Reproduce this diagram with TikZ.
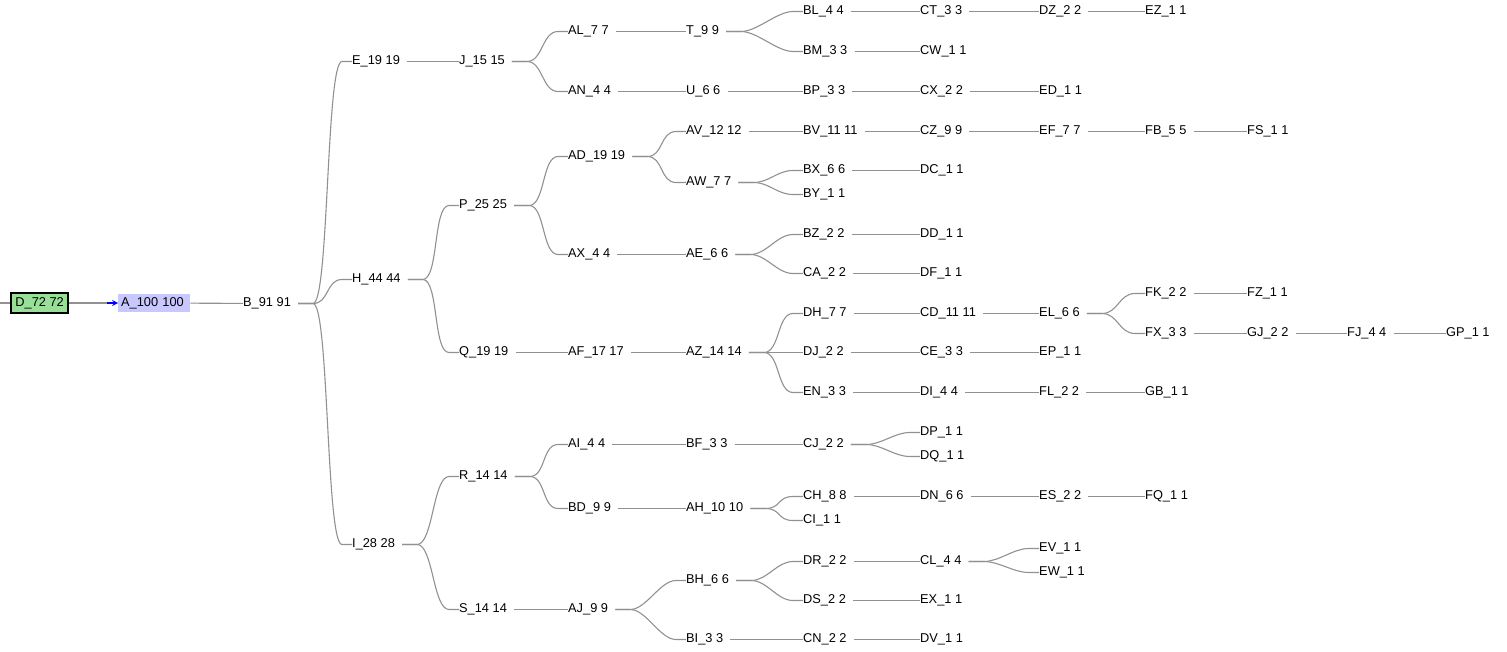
\documentclass[tikz,border=0pt]{standalone}
\usepackage{fontspec}
\setmainfont{Liberation Sans}
\usepackage{xcolor}
\usepackage{tikz}

\definecolor{linegray}{RGB}{145,145,145}
\definecolor{rootgreen}{RGB}{152,224,152}
\definecolor{pickblue}{RGB}{200,200,255}

\begin{document}
\begin{tikzpicture}[
  x=1pt, y=-1pt,
  item/.style={anchor=west,inner sep=0pt,yshift=-1.5pt},
  link/.style={draw=linegray,line width=1.1pt,
    to path={(\tikztostart.east) ++(7,0) -- ++(15,0)
      .. controls +(16,0) and +(-16,0) .. ([xshift=-10pt]\tikztotarget.west)
      -- (\tikztotarget.west)}},
  font=\fontsize{12.8}{15}\selectfont
]
\useasboundingbox (0,0) rectangle (1507,652);

% Draw the root and the picked node
\coordinate (src) at (0,303);
\node[draw,line width=1.8pt,fill=rootgreen,inner xsep=4.5pt,inner ysep=0pt,
  minimum height=20pt,anchor=west] (D) at (10,303) {D\_72 72};
\node[fill=pickblue,anchor=west,inner xsep=3pt,inner ysep=0pt,
  text width=66pt,minimum height=18pt] (A) at (118,303) {A\_100 100};

% Draw tree nodes: name/count/x/y
\foreach \n/\v/\x/\y in {
  B/91/243/302,
  E/19/352/60, H/44/352/278, I/28/352/543,
  J/15/459/60, P/25/459/204, Q/19/459/351, R/14/459/475, S/14/459/608,
  AL/7/568/30, AN/4/568/90, AD/19/568/155, AX/4/568/253, AF/17/568/351,
  AI/4/568/443, BD/9/568/507, AJ/9/568/608,
  T/9/686/30, U/6/686/90, AV/12/686/130, AW/7/686/181, AE/6/686/253,
  AZ/14/686/351, BF/3/686/443, AH/10/686/507, BH/6/686/579, BI/3/686/638,
  BL/4/803/10, BM/3/803/50, BP/3/803/90, BV/11/803/130, BX/6/803/169,
  BY/1/803/193, BZ/2/803/233, CA/2/803/272, DH/7/803/312, DJ/2/803/351,
  EN/3/803/391, CJ/2/803/443, CH/8/803/495, CI/1/803/519, DR/2/803/560,
  DS/2/803/599, CN/2/803/638,
  CT/3/920/10, CW/1/920/50, CX/2/920/90, CZ/9/920/130, DC/1/920/169,
  DD/1/920/233, DF/1/920/272, CD/11/920/312, CE/3/920/351, DI/4/920/391,
  DP/1/920/431, DQ/1/920/455, DN/6/920/495, CL/4/920/560, EX/1/920/599,
  DV/1/920/638,
  DZ/2/1039/10, ED/1/1039/90, EF/7/1039/130, EL/6/1039/312, EP/1/1039/351,
  FL/2/1039/391, ES/2/1039/495, EV/1/1039/547, EW/1/1039/571,
  EZ/1/1145/10, FB/5/1145/130, FK/2/1145/292, FX/3/1145/332, GB/1/1145/391,
  FQ/1/1145/495,
  FS/1/1247/130, FZ/1/1247/292, GJ/2/1247/332,
  FJ/4/1347/332,
  GP/1/1446/332} {
  \node[item] (\n) at (\x,\y) {\n\_\v{} \v};
}

% Connectors into the picked node
\draw[linegray,line width=1.1pt] (src) -- (D);
\draw[linegray,line width=1.1pt] (D) -- ([xshift=-11pt]A.west);
\draw[blue,line width=1.6pt,->,>=stealth] ([xshift=-11pt]A.west) -- (A.west);
\draw[linegray,line width=1.1pt] (A) -- (B);

% Tree edges
\foreach \p/\c in {
  B/E, B/H, B/I,
  E/J, H/P, H/Q, I/R, I/S,
  J/AL, J/AN, P/AD, P/AX, Q/AF, R/AI, R/BD, S/AJ,
  AL/T, AN/U, AD/AV, AD/AW, AX/AE, AF/AZ, AI/BF, BD/AH, AJ/BH, AJ/BI,
  T/BL, T/BM, U/BP, AV/BV, AW/BX, AW/BY, AE/BZ, AE/CA,
  AZ/DH, AZ/DJ, AZ/EN, BF/CJ, AH/CH, AH/CI, BH/DR, BH/DS, BI/CN,
  BL/CT, BM/CW, BP/CX, BV/CZ, BX/DC, BZ/DD, CA/DF, DH/CD, DJ/CE, EN/DI,
  CJ/DP, CJ/DQ, CH/DN, DR/CL, DS/EX, CN/DV,
  CT/DZ, CX/ED, CZ/EF, CD/EL, CE/EP, DI/FL, DN/ES, CL/EV, CL/EW,
  DZ/EZ, EF/FB, EL/FK, EL/FX, FL/GB, ES/FQ,
  FB/FS, FK/FZ, FX/GJ, GJ/FJ, FJ/GP} {
  \draw[link] (\p) to (\c);
}

\end{tikzpicture}
\end{document}
